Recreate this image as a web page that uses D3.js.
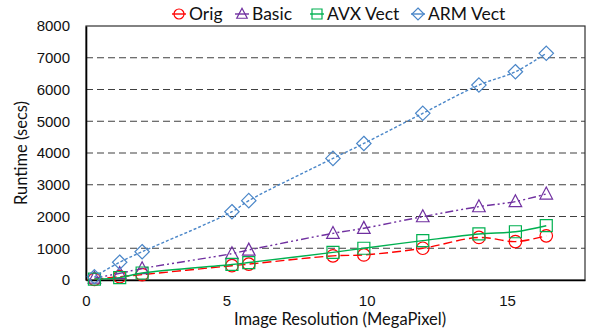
<!DOCTYPE html>
<html>
<head>
<meta charset="utf-8">
<script src="https://cdn.jsdelivr.net/npm/d3@7"></script>
<style>
  html, body { margin: 0; padding: 0; background: #fff; }
  svg { display: block; font-family: Lato, "Open Sans", sans-serif; }
</style>
</head>
<body>
<svg id="chart" width="592" height="331"></svg>
<script>
// Image resolution (megapixels) for each run
const resolution = [0.3, 1.2, 2.0, 5.2, 5.8, 8.8, 9.9, 12.0, 14.0, 15.3, 16.4];
// Runtime in seconds per implementation
const origRuntime  = [20, 105, 170, 450, 500, 760, 790, 1000, 1340, 1210, 1390];
const basicRuntime = [60, 210, 360, 830, 945, 1470, 1630, 1995, 2310, 2470, 2710];
const avxRuntime   = [30, 75, 220, 490, 550, 870, 1000, 1240, 1450, 1520, 1710];
const armRuntime   = [100, 560, 890, 2150, 2500, 3830, 4300, 5250, 6140, 6560, 7140];
const seriesNames  = ["Orig", "Basic", "AVX Vect", "ARM Vect"];
const xTicks = [0, 5, 10, 15];
const yTicks = [0, 1000, 2000, 3000, 4000, 5000, 6000, 7000, 8000];

const series = [
  { name: seriesNames[0], values: origRuntime,  color: "#ff0000", dash: "9,4",        marker: "circle" },
  { name: seriesNames[1], values: basicRuntime, color: "#7030a0", dash: "8,3,2,3,2,3", marker: "triangle" },
  { name: seriesNames[2], values: avxRuntime,   color: "#00b050", dash: null,         marker: "square" },
  { name: seriesNames[3], values: armRuntime,   color: "#4a86c8", dash: "3,2",        marker: "diamond" }
];

const svg = d3.select("#chart");
const W = 592, H = 331;
const m = { left: 86, right: 7, top: 26, bottom: 51 };

const x = d3.scaleLinear().domain([0, 17.78]).range([m.left, W - m.right]);
const y = d3.scaleLinear().domain([0, 8000]).range([H - m.bottom, m.top]);

// Horizontal dashed gridlines
svg.append("g").selectAll("line")
  .data(yTicks.filter(d => d > 0 && d < 8000))
  .join("line")
  .attr("x1", x.range()[0]).attr("x2", x.range()[1])
  .attr("y1", d => y(d)).attr("y2", d => y(d))
  .attr("stroke", "#404040").attr("stroke-width", 1.2)
  .attr("stroke-dasharray", "7,4");

// Plot border
svg.append("rect")
  .attr("x", x.range()[0]).attr("y", y.range()[1])
  .attr("width", x.range()[1] - x.range()[0])
  .attr("height", y.range()[0] - y.range()[1])
  .attr("fill", "none").attr("stroke", "#303030").attr("stroke-width", 1.2);

// Axes
const yAxis = d3.axisLeft(y).tickValues(yTicks).tickSize(0).tickPadding(16).tickFormat(d3.format("d"));
const gy = svg.append("g").attr("transform", `translate(${m.left},0)`).call(yAxis);
gy.select(".domain").attr("stroke", "#000").attr("stroke-width", 1.6);
gy.selectAll("text").attr("font-size", 15).attr("fill", "#111");

const xAxis = d3.axisBottom(x).tickValues(xTicks).tickSize(0).tickPadding(15).tickFormat(d3.format("d"));
const gx = svg.append("g").attr("transform", `translate(0,${H - m.bottom})`).call(xAxis);
gx.select(".domain").attr("stroke", "#000").attr("stroke-width", 1.6);
gx.selectAll("text").attr("font-size", 15).attr("fill", "#111");

// Axis titles
svg.append("text")
  .attr("x", 340).attr("y", 325)
  .attr("text-anchor", "middle").attr("font-size", 16.5).attr("fill", "#111")
  .text("Image Resolution (MegaPixel)");
svg.append("text")
  .attr("transform", `translate(27,${(y.range()[0] + y.range()[1]) / 2}) rotate(-90)`)
  .attr("text-anchor", "middle").attr("font-size", 16.5).attr("fill", "#111")
  .text("Runtime (secs)");

// Marker path builder
function markerPath(type, s) {
  const h = s / 2;
  switch (type) {
    case "circle":
      return `M${-h},0 A${h},${h} 0 1,0 ${h},0 A${h},${h} 0 1,0 ${-h},0 Z`;
    case "triangle":
      return `M0,${-h * 1.15} L${h * 1.05},${h * 0.85} L${-h * 1.05},${h * 0.85} Z`;
    case "square":
      return `M${-h},${-h} L${h},${-h} L${h},${h} L${-h},${h} Z`;
    case "diamond":
      return `M0,${-h * 1.2} L${h * 1.2},0 L0,${h * 1.2} L${-h * 1.2},0 Z`;
  }
}

const line = d3.line()
  .x(d => x(d[0])).y(d => y(d[1]))
  .curve(d3.curveCatmullRom.alpha(0.5));

// Series lines and markers
series.forEach(s => {
  const pts = resolution.map((r, i) => [r, s.values[i]]);
  const g = svg.append("g");
  g.append("path")
    .attr("d", line(pts))
    .attr("fill", "none").attr("stroke", s.color).attr("stroke-width", 1.4)
    .attr("stroke-dasharray", s.dash);
  g.selectAll("path.mk").data(pts).join("path")
    .attr("class", "mk")
    .attr("transform", d => `translate(${x(d[0])},${y(d[1])})`)
    .attr("d", markerPath(s.marker, s.marker === "circle" ? 12.5 : 12))
    .attr("fill", "none").attr("stroke", s.color).attr("stroke-width", 1.2);
});

// Legend across the top
const legendX = [179, 242, 317, 418];
const lg = svg.append("g");
series.forEach((s, i) => {
  const cx = legendX[i], cy = 14;
  lg.append("line")
    .attr("x1", cx - 7).attr("x2", cx + 7).attr("y1", cy).attr("y2", cy)
    .attr("stroke", s.color).attr("stroke-width", 1.4);
  lg.append("path")
    .attr("transform", `translate(${cx},${cy})`)
    .attr("d", markerPath(s.marker, 10))
    .attr("fill", "none").attr("stroke", s.color).attr("stroke-width", 1.2);
  lg.append("text")
    .attr("x", cx + 10).attr("y", cy).attr("dy", "0.36em")
    .attr("font-size", 17.5).attr("fill", "#111")
    .text(s.name);
});
</script>
</body>
</html>
